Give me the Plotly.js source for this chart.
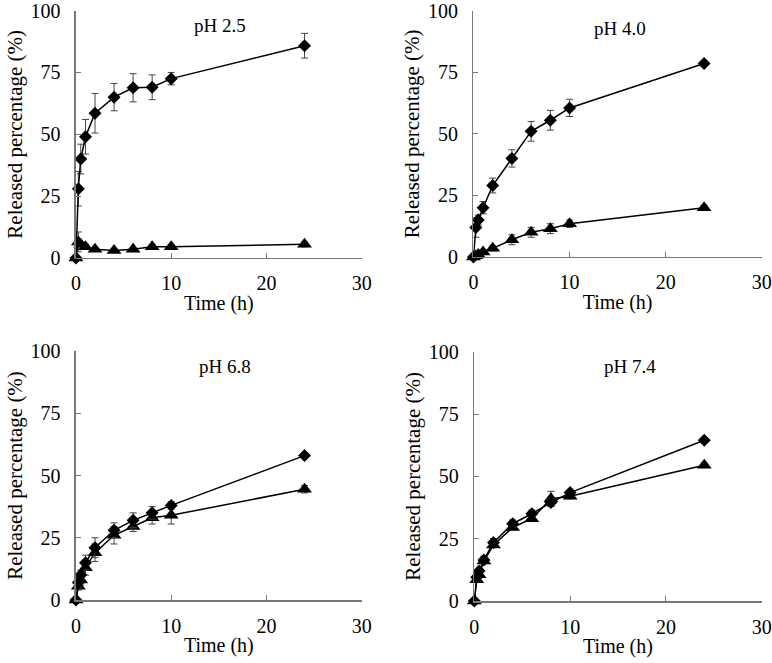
<!DOCTYPE html>
<html>
<head>
<meta charset="utf-8">
<script src="https://cdn.plot.ly/plotly-3.0.1.min.js"></script>
<style>
  html, body { margin: 0; padding: 0; background: #fff; }
  #graphs { width: 772px; height: 663px; }
</style>
</head>
<body>
<div id="graphs"></div>
<script>
// sampling times (h)
var time = [0, 0.25, 0.5, 1, 2, 4, 6, 8, 10, 24];

// released percentage (%), diamond series / triangle series, per pH
var ph25Diamond = [0, 28, 40, 49, 58.5, 65, 68.8, 69, 72.5, 85.8];
var ph25DiamondErr = [0, 7, 6, 7, 8, 5.5, 5.7, 5, 2.5, 5];
var ph25Triangle = [0, 6.5, 5.5, 4.5, 3.5, 3, 3.5, 4.5, 4.5, 5.5];
var ph25TriangleErr = [0, 4, 1, 1, 0.5, 0.5, 0.5, 0.8, 0.8, 1];

var ph40Diamond = [0, 12, 15, 20, 29, 40, 51, 55.5, 60.5, 78.5];
var ph40DiamondErr = [0, 4, 2, 2.5, 3, 3.5, 4, 4, 3.5, 0.8];
var ph40Triangle = [0, 0.5, 1, 2, 3.5, 7, 10, 11.5, 13.5, 20];
var ph40TriangleErr = [0, 1, 1, 1, 1, 2, 2, 2, 1.5, 1];

var ph68Diamond = [0, 7, 10, 15, 21, 28, 32, 35, 38, 58];
var ph68DiamondErr = [0, 2, 2, 3, 4, 3, 3, 2.5, 1.5, 1];
var ph68Triangle = [0, 5.5, 8, 13, 19, 26, 29.5, 33, 34, 44.5];
var ph68TriangleErr = [0, 1.5, 2, 3, 3.5, 3.5, 2, 2.5, 3.5, 1.5];

var ph74Diamond = [0, 9.5, 12, 16.5, 23.5, 31, 35, 39.5, 43.5, 64.5];
var ph74DiamondErr = [0, 1, 1, 1.5, 1.5, 1.5, 1.5, 1.5, 1, 1];
var ph74Triangle = [0, 8.5, 10.5, 16, 22.5, 29.5, 33, 41, 42, 54.5];
var ph74TriangleErr = [0, 1, 1, 1, 1, 1, 1, 3, 1, 1];

var panelTitles = ['pH 2.5', 'pH 4.0', 'pH 6.8', 'pH 7.4'];
var xTicks = [0, 10, 20, 30];
var yTicks = [0, 25, 50, 75, 100];

var font = "'Liberation Serif', 'Times New Roman', serif";
var axisGray = '#777';

function series(y, err, symbol, size, n) {
    return {
        x: time, y: y,
        xaxis: n == 1 ? 'x' : 'x' + n,
        yaxis: n == 1 ? 'y' : 'y' + n,
        mode: 'lines+markers', type: 'scatter',
        cliponaxis: false,
        line: {color: '#000', width: 1.5},
        marker: {symbol: symbol, size: size, color: '#000'},
        error_y: {type: 'data', array: err, visible: true, color: '#444', thickness: 1, width: 3.5},
        showlegend: false
    };
}

var data = [
    series(ph25Triangle, ph25TriangleErr, 'triangle-up', 13, 1),
    series(ph25Diamond, ph25DiamondErr, 'diamond', 10, 1),
    series(ph40Triangle, ph40TriangleErr, 'triangle-up', 13, 2),
    series(ph40Diamond, ph40DiamondErr, 'diamond', 10, 2),
    series(ph68Triangle, ph68TriangleErr, 'triangle-up', 13, 3),
    series(ph68Diamond, ph68DiamondErr, 'diamond', 10, 3),
    series(ph74Triangle, ph74TriangleErr, 'triangle-up', 13, 4),
    series(ph74Diamond, ph74DiamondErr, 'diamond', 10, 4)
];

function xAxis(domain, anchor) {
    return {
        domain: domain, anchor: anchor, range: [0, 30],
        tickvals: xTicks, ticks: 'inside', ticklen: 5, tickcolor: axisGray,
        showline: true, linecolor: axisGray, linewidth: 1.5,
        showgrid: false, zeroline: false,
        tickfont: {family: font, size: 20, color: '#000'},
        ticklabelstandoff: 7, ticklabeloverflow: 'allow',
        title: {text: 'Time (h)', font: {family: font, size: 20, color: '#000'}, standoff: 2}
    };
}

function yAxis(domain, anchor) {
    return {
        domain: domain, anchor: anchor, range: [0, 100],
        tickvals: yTicks, ticks: 'inside', ticklen: 5, tickcolor: axisGray,
        showline: true, linecolor: axisGray, linewidth: 1.5,
        showgrid: false, zeroline: false,
        tickfont: {family: font, size: 20, color: '#000'},
        ticklabelstandoff: 10, ticklabeloverflow: 'allow',
        title: {text: 'Released percentage (%)', font: {family: font, size: 21, color: '#000'}, standoff: 2}
    };
}

var titlePos = [[15.1, 94], [15.3, 92.6], [15.6, 93.6], [16.3, 94]];
var annotations = panelTitles.map(function (t, i) {
    return {
        text: t, showarrow: false,
        xref: i == 0 ? 'x' : 'x' + (i + 1),
        yref: i == 0 ? 'y' : 'y' + (i + 1),
        x: titlePos[i][0], y: titlePos[i][1],
        font: {family: font, size: 19, color: '#000'}
    };
});

var layout = {
    width: 772, height: 663,
    margin: {l: 0, r: 0, t: 0, b: 0},
    paper_bgcolor: '#fff', plot_bgcolor: '#fff',
    xaxis: xAxis([0.0984, 0.4685], 'y'),
    yaxis: yAxis([0.6109, 0.9840], 'x'),
    xaxis2: xAxis([0.6133, 0.9867], 'y2'),
    yaxis2: yAxis([0.6124, 0.9840], 'x2'),
    xaxis3: xAxis([0.0984, 0.4685], 'y3'),
    yaxis3: yAxis([0.0950, 0.4706], 'x3'),
    xaxis4: xAxis([0.6144, 0.9867], 'y4'),
    yaxis4: yAxis([0.0935, 0.4695], 'x4'),
    annotations: annotations
};

Plotly.newPlot('graphs', data, layout, {staticPlot: true});
</script>
</body>
</html>
